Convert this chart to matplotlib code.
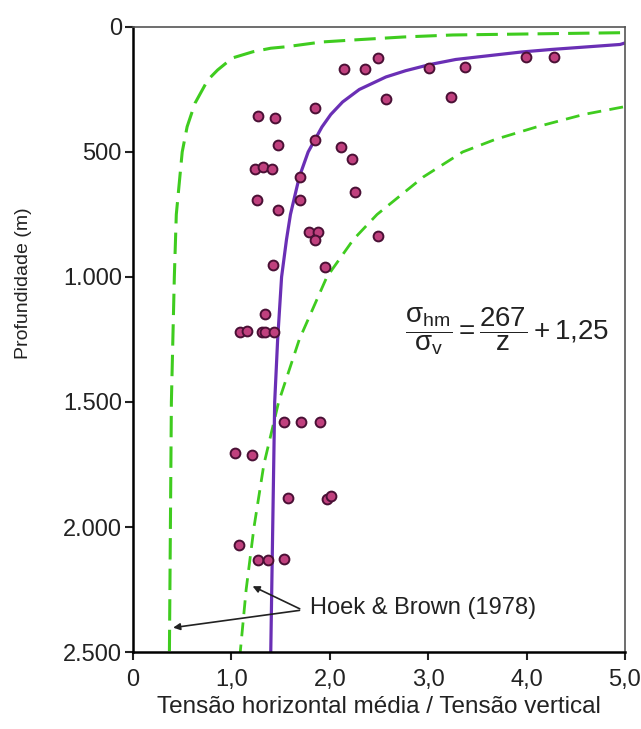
import numpy as np
import matplotlib
matplotlib.use('Agg')
import matplotlib.pyplot as plt

plt.rcParams['font.family'] = ['Liberation Sans', 'DejaVu Sans']
plt.rcParams['mathtext.fontset'] = 'custom'
plt.rcParams['mathtext.rm'] = 'Liberation Sans'
plt.rcParams['mathtext.it'] = 'Liberation Sans'
plt.rcParams['mathtext.default'] = 'regular'

# measured points (razao k, profundidade z em m)
meas_k = [2.14, 2.36, 2.49, 3.01, 3.37, 3.99, 4.28, 2.57, 3.23, 1.85, 1.27, 1.44,
          1.85, 1.47, 2.11, 2.23, 1.24, 1.32, 1.41, 1.70, 1.26, 1.70, 2.26, 1.47,
          1.79, 1.88, 1.85, 2.49, 1.42, 1.95, 1.34, 1.09, 1.16, 1.31, 1.34, 1.43,
          1.53, 1.71, 1.90, 1.04, 1.21, 1.58, 1.97, 2.01, 1.08, 1.27, 1.37, 1.53]
meas_z = [168, 168, 125, 165, 159, 119, 119, 289, 281, 324, 356, 363,
          452, 471, 479, 527, 568, 561, 568, 601, 692, 692, 659, 732,
          821, 821, 852, 837, 952, 960, 1148, 1221, 1215, 1221, 1221, 1221,
          1581, 1581, 1581, 1703, 1712, 1884, 1889, 1875, 2071, 2132, 2132, 2127]

# ajuste (linha roxa)
fit_z = [64, 70, 80, 90, 100, 120, 130, 150, 175, 200, 250, 300, 350, 400, 500,
         600, 750, 850, 1000, 1250, 1500, 2000, 2500]
fit_k = [5.0, 4.95, 4.60, 4.25, 3.95, 3.50, 3.28, 3.02, 2.77, 2.57, 2.30, 2.13, 2.01,
         1.92, 1.78, 1.69, 1.60, 1.56, 1.51, 1.47, 1.44, 1.42, 1.40]

# Hoek & Brown limite inferior
low_z = [23, 32, 40, 52, 60, 79, 85, 99, 124, 172, 212, 305, 399, 500, 750,
         1000, 1500, 2000, 2500]
low_k = [4.95, 3.25, 2.75, 2.24, 1.92, 1.56, 1.40, 1.22, 1.01, 0.86, 0.76, 0.63,
         0.55, 0.50, 0.44, 0.42, 0.39, 0.38, 0.37]

# Hoek & Brown limite superior
up_z = [320, 350, 400, 450, 500, 600, 750, 850, 1000, 1250, 1500, 1750, 2000, 2250, 2500]
up_k = [4.98, 4.58, 4.10, 3.68, 3.35, 2.95, 2.48, 2.24, 1.97, 1.69, 1.48, 1.33, 1.23,
        1.15, 1.09]

green = '#3fcc1f'
purple = '#6a2fb5'

fig = plt.figure(figsize=(6.41, 7.29), dpi=100)
ax = fig.add_axes([0.2075, 0.1056, 0.7675, 0.8574])

ax.plot(low_k, low_z, color=green, lw=2.2, dashes=(7, 3))
ax.plot(up_k, up_z, color=green, lw=2.0, dashes=(5, 3))
ax.plot(fit_k, fit_z, color=purple, lw=2.3)
ax.scatter(meas_k, meas_z, s=50, color='#c0407e', edgecolors='#4a1035', linewidths=1.4, zorder=5)

ax.set_xlim(0, 5)
ax.set_ylim(2500, 0)
ax.set_xticks([0, 1, 2, 3, 4, 5])
ax.set_xticklabels(['0', '1,0', '2,0', '3,0', '4,0', '5,0'])
ax.set_yticks([0, 500, 1000, 1500, 2000, 2500])
ax.set_yticklabels(['0', '500', '1.000', '1.500', '2.000', '2.500'])
ax.tick_params(axis='both', direction='out', length=6, width=1.5, labelsize=17, colors='#222222')
ax.tick_params(axis='x', pad=6)
ax.tick_params(axis='y', pad=2)
for side in ['left', 'bottom']:
    ax.spines[side].set_linewidth(1.8)
for side in ['top', 'right']:
    ax.spines[side].set_linewidth(1.2)
    ax.spines[side].set_color('#555555')

ax.set_xlabel('Tensão horizontal média / Tensão vertical', fontsize=17.5, color='#222222', labelpad=4)
fig.text(24 / 641, 1 - 283 / 729, 'Profundidade (m)', fontsize=14, rotation=90,
         ha='center', va='center', color='#222222')

ax.text(3.8, 1215, r'$\dfrac{\sigma_{hm}}{\sigma_{v}} = \dfrac{267}{z} + 1{,}25$',
        fontsize=20, ha='center', va='center', color='#222222')

ax.text(1.80, 2325, 'Hoek & Brown (1978)', fontsize=17, ha='left', va='center', color='#222222')
arrow = dict(arrowstyle='-|>', color='#222222', lw=1.2, mutation_scale=10)
ax.annotate('', xy=(1.19, 2232), xytext=(1.72, 2332), arrowprops=arrow)
ax.annotate('', xy=(0.38, 2404), xytext=(1.72, 2332), arrowprops=arrow)

fig.savefig('out.png', dpi=100)
